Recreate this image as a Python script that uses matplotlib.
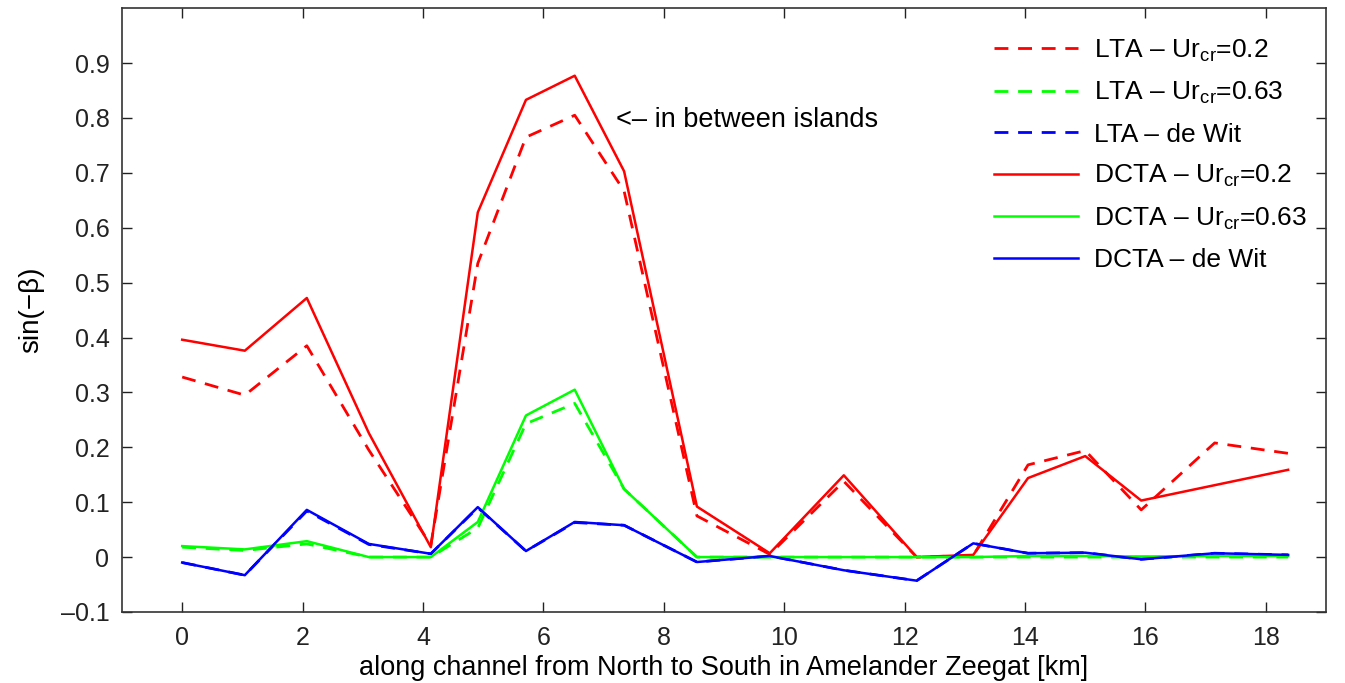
import matplotlib
matplotlib.use('Agg')
import matplotlib.pyplot as plt

plt.rcParams['font.family'] = ['Liberation Sans', 'DejaVu Sans']
plt.rcParams['mathtext.fontset'] = 'custom'
plt.rcParams['mathtext.rm'] = 'Liberation Sans'
plt.rcParams['mathtext.it'] = 'Liberation Sans:italic'

# distance along the channel [km]
km = [0, 1.04, 2.07, 3.10, 4.13, 4.91, 5.71, 6.52, 7.34, 8.55,
      9.76, 10.99, 12.20, 13.14, 14.05, 15.0, 15.93, 17.15, 18.37]

# sin(-beta), LTA method
lta_02 = [0.328, 0.295, 0.385, 0.195, 0.022, 0.535, 0.765, 0.805, 0.667, 0.075,
          0.005, 0.138, 0.0, 0.003, 0.168, 0.194, 0.086, 0.208, 0.189]
lta_063 = [0.018, 0.012, 0.024, 0.0, 0.0, 0.053, 0.243, 0.280, 0.124, 0.0,
           0.0, 0.0, 0.0, 0.0, 0.0, 0.0, 0.0, 0.0, 0.0]
lta_wit = [-0.010, -0.033, 0.084, 0.023, 0.006, 0.090, 0.011, 0.063, 0.058, -0.009,
           0.002, -0.024, -0.043, 0.025, 0.007, 0.008, -0.004, 0.007, 0.004]

# sin(-beta), DCTA method
dcta_02 = [0.396, 0.376, 0.472, 0.226, 0.018, 0.628, 0.833, 0.877, 0.703, 0.092,
           0.007, 0.149, 0.0, 0.004, 0.144, 0.184, 0.103, 0.131, 0.159]
dcta_063 = [0.020, 0.014, 0.029, 0.0, 0.0, 0.064, 0.258, 0.305, 0.124, 0.0,
            0.0, 0.0, 0.0, 0.0, 0.002, 0.002, 0.001, 0.002, 0.002]
dcta_wit = [-0.010, -0.033, 0.086, 0.024, 0.006, 0.091, 0.011, 0.064, 0.058, -0.009,
            0.002, -0.024, -0.043, 0.025, 0.007, 0.008, -0.004, 0.007, 0.004]

fig = plt.figure(figsize=(13.45, 6.83), dpi=100)
ax = fig.add_axes([0.0907, 0.104, 0.8952, 0.884])

dash = (0, (5, 3.5))
ax.plot(km, lta_02, color='#ff0000', lw=2.0, ls=dash, label='LTA – Ur$_\\mathrm{cr}$=0.2')
ax.plot(km, lta_063, color='#00ff00', lw=2.0, ls=dash, label='LTA – Ur$_\\mathrm{cr}$=0.63')
ax.plot(km, lta_wit, color='#0000ff', lw=2.0, ls=dash, label='LTA – de Wit')
ax.plot(km, dcta_02, color='#ff0000', lw=1.8, label='DCTA – Ur$_\\mathrm{cr}$=0.2')
ax.plot(km, dcta_063, color='#00ff00', lw=1.8, label='DCTA – Ur$_\\mathrm{cr}$=0.63')
ax.plot(km, dcta_wit, color='#0000ff', lw=1.8, label='DCTA – de Wit')

ax.text(7.2, 0.796, '<– in between islands', fontsize=19.5, va='center', ha='left')

ax.set_xlim(-1, 19)
ax.set_ylim(-0.1, 1.0)
ax.set_xticks(range(0, 19, 2))
ax.set_yticks([-0.1, 0, 0.1, 0.2, 0.3, 0.4, 0.5, 0.6, 0.7, 0.8, 0.9])
ax.set_yticklabels(['–0.1', '0', '0.1', '0.2', '0.3', '0.4', '0.5', '0.6', '0.7', '0.8', '0.9'])
ax.tick_params(direction='in', length=7, width=1, top=True, right=True,
               labelsize=18, colors='#222222')
ax.tick_params(axis='y', pad=9)
ax.tick_params(axis='x', pad=10)
for s in ax.spines.values():
    s.set_color('#333333')
    s.set_linewidth(1.2)

ax.set_xlabel('along channel from North to South in Amelander Zeegat [km]', fontsize=19.5, labelpad=4)
ax.set_ylabel('sin(−β)', fontsize=20, labelpad=12)

ax.legend(loc='upper right', frameon=False, fontsize=19, handlelength=3.2,
          handletextpad=0.6, labelspacing=0.62, borderaxespad=0.6,
          bbox_to_anchor=(1.006, 0.995))

fig.savefig('out.png', dpi=100)
